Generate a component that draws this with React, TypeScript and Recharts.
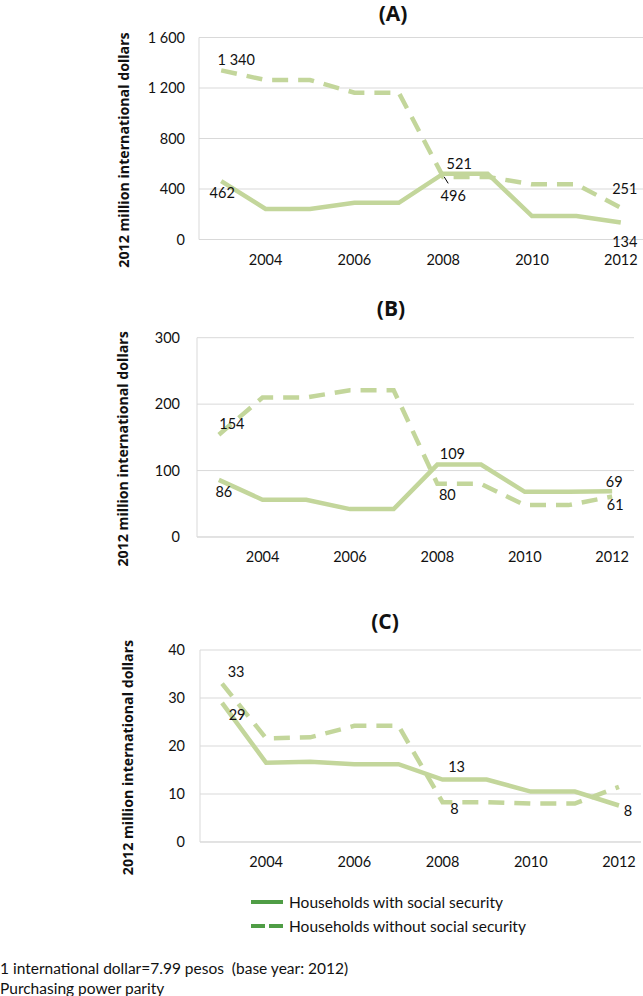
import React from 'react';
import { LineChart, Line, XAxis, YAxis, CartesianGrid, LabelList, Label } from 'recharts';

const years = [2003, 2004, 2005, 2006, 2007, 2008, 2009, 2010, 2011, 2012];
const yearTicks = [2004, 2006, 2008, 2010, 2012];

// (A)
const aWith = [462, 242, 242, 291, 291, 521, 521, 186, 186, 134];
const aWithout = [1340, 1263, 1263, 1163, 1163, 496, 496, 437, 437, 251];
const aTicks = [0, 400, 800, 1200, 1600];

// (B)
const bWith = [86, 56, 56, 42, 42, 109, 109, 68, 68, 69];
const bWithout = [154, 210, 210, 221, 221, 80, 80, 48, 48, 61];
const bTicks = [0, 100, 200, 300];

// (C)
const cWith = [29, 16.5, 16.7, 16.2, 16.2, 13, 13, 10.5, 10.5, 7.6];
const cWithout = [33, 21.6, 21.8, 24.2, 24.2, 8.3, 8.3, 8.0, 8.0, 11.5];
const cTicks = [0, 10, 20, 30, 40];

const seriesNames = ['Households with social security', 'Households without social security'];
const yTitle = '2012 million international dollars';
const footnotes = ['1 international dollar=7.99 pesos  (base year: 2012)', 'Purchasing power parity'];

const FONT = 'Lato, "Open Sans", sans-serif';
const TITLE_FONT = '"Open Sans", Lato, sans-serif';
const LINE = '#c3d69b';
const LEGEND_GREEN = '#4f9d45';
const GRID = '#d9d9d9';
const TEXT = '#111';

const fmt = (v: number) => String(Math.round(v)).replace(/\B(?=(\d{3})+(?!\d))/g, ' ');

type Spots = Record<number, [number, number]>;

// data label renderer: only the points listed in spots get a label, offset by [dx, dy]
const makeLabel = (spots: Spots, leader?: number) => (props: any) => {
    const { x, y, value, index } = props;
    const s = spots[index];
    if (!s) return null;
    return (
        <g>
            {leader === index && (
                <line x1={x + 1} y1={y} x2={x + 5} y2={y + 6.5} stroke="#000" strokeWidth={1} />
            )}
            <text x={x + s[0]} y={y + s[1]} textAnchor="middle" dominantBaseline="central"
                fontSize={14.5} fill={TEXT} fontFamily={FONT}>{fmt(value)}</text>
        </g>
    );
};

interface PanelProps {
    title: string;
    titleX: number;
    titleY: number;
    top: number;
    height: number;
    margin: { top: number; right: number; bottom: number; left: number };
    yWidth: number;
    yTickGap: number;
    yTitleX: number;
    ticks: number[];
    withData: number[];
    withoutData: number[];
    withSpots: Spots;
    withoutSpots: Spots;
    leader?: number;
}

const Panel: React.FC<PanelProps> = ({
    title, titleX, titleY, top, height, margin, yWidth, yTickGap, yTitleX, ticks,
    withData, withoutData, withSpots, withoutSpots, leader
}) => {
    const data = years.map((year, i) => ({ year, with: withData[i], without: withoutData[i] }));
    return (
        <>
            <div style={{
                position: 'absolute', left: titleX, top: titleY, transform: 'translate(-50%, -50%)',
                fontSize: 21, fontWeight: 700, color: TEXT, whiteSpace: 'nowrap', fontFamily: TITLE_FONT
            }}>{title}</div>
            <div style={{ position: 'absolute', left: 0, top }}>
                <LineChart width={643} height={height} data={data} margin={margin} style={{ overflow: 'visible' }}>
                    <CartesianGrid vertical={false} stroke={GRID} strokeWidth={1} />
                    <XAxis dataKey="year" type="number" domain={[2002.5, 2012.5]} ticks={yearTicks}
                        axisLine={{ stroke: GRID }} tickLine={false} tickSize={0} tickMargin={15} height={30}
                        tick={{ fontSize: 14.5, fill: TEXT, fontFamily: FONT }} />
                    <YAxis domain={[0, ticks[ticks.length - 1]]} ticks={ticks} width={yWidth}
                        axisLine={{ stroke: GRID }} tickLine={false} tickSize={0} tickMargin={yTickGap}
                        tickFormatter={fmt} tick={{ fontSize: 14.5, fill: TEXT, fontFamily: FONT }}>
                        <Label content={(p: any) => {
                            const vb = p.viewBox;
                            const cy = vb.y + vb.height / 2 + 11.5;
                            return (
                                <text x={yTitleX} y={cy} transform={`rotate(-90 ${yTitleX} ${cy})`}
                                    textAnchor="middle" dominantBaseline="central" fontSize={14.2}
                                    fontWeight={700} fill={TEXT} fontFamily={TITLE_FONT}>{yTitle}</text>
                            );
                        }} />
                    </YAxis>
                    <Line dataKey="without" name={seriesNames[1]} stroke={LINE} strokeWidth={4.5}
                        strokeDasharray="16 10" dot={false} activeDot={false} isAnimationActive={false}>
                        <LabelList dataKey="without" content={makeLabel(withoutSpots, leader)} />
                    </Line>
                    <Line dataKey="with" name={seriesNames[0]} stroke={LINE} strokeWidth={4.5}
                        dot={false} activeDot={false} isAnimationActive={false}>
                        <LabelList dataKey="with" content={makeLabel(withSpots)} />
                    </Line>
                </LineChart>
            </div>
        </>
    );
};

const LegendRow: React.FC<{ top: number; dashed?: boolean; text: string }> = ({ top, dashed, text }) => (
    <div style={{ position: 'absolute', left: 251, top: top - 10, height: 20, display: 'flex', alignItems: 'center' }}>
        <svg width={32} height={20}>
            <line x1={0} y1={10} x2={32} y2={10} stroke={LEGEND_GREEN} strokeWidth={4}
                strokeDasharray={dashed ? '14 4' : undefined} />
        </svg>
        <span style={{ marginLeft: 6, fontSize: 15.5, color: TEXT, whiteSpace: 'nowrap' }}>{text}</span>
    </div>
);

export default function App() {
    return (
        <div style={{ position: 'absolute', left: 0, top: 0, width: 643, height: 996, background: '#fff', fontFamily: FONT, overflow: 'hidden' }}>
            <Panel title="(A)" titleX={393} titleY={13} top={0} height={280}
                margin={{ top: 37.5, right: 0, bottom: 10.5, left: 0 }} yWidth={199} yTickGap={14} yTitleX={123}
                ticks={aTicks} withData={aWith} withoutData={aWithout}
                withSpots={{ 0: [1, 11], 5: [16, -10], 9: [4, 19] }}
                withoutSpots={{ 0: [15, -11], 5: [10, 19], 9: [4, -19] }} leader={5} />
            <Panel title="(B)" titleX={391} titleY={308} top={290} height={300}
                margin={{ top: 47.7, right: 9, bottom: 23, left: 0 }} yWidth={197} yTickGap={17} yTitleX={123}
                ticks={bTicks} withData={bWith} withoutData={bWithout}
                withSpots={{ 0: [5, 12], 5: [15, -11], 9: [2, -10] }}
                withoutSpots={{ 0: [13, -11], 5: [10, 11], 9: [3, 8] }} />
            <Panel title="(C)" titleX={385} titleY={621} top={600} height={290}
                margin={{ top: 50, right: 2, bottom: 18, left: 0 }} yWidth={200} yTickGap={15} yTitleX={127}
                ticks={cTicks} withData={cWith} withoutData={cWithout}
                withSpots={{ 0: [15, 12], 5: [14, -13], 9: [9, 5] }}
                withoutSpots={{ 0: [14, -12], 5: [12, 6] }} />
            <LegendRow top={902} text={seriesNames[0]} />
            <LegendRow top={926} dashed text={seriesNames[1]} />
            {footnotes.map((t, i) => (
                <div key={t} style={{
                    position: 'absolute', left: 0, top: 968 + i * 20 - 10, height: 20, lineHeight: '20px',
                    fontSize: 15.5, color: TEXT, whiteSpace: 'pre'
                }}>{t}</div>
            ))}
        </div>
    );
}
